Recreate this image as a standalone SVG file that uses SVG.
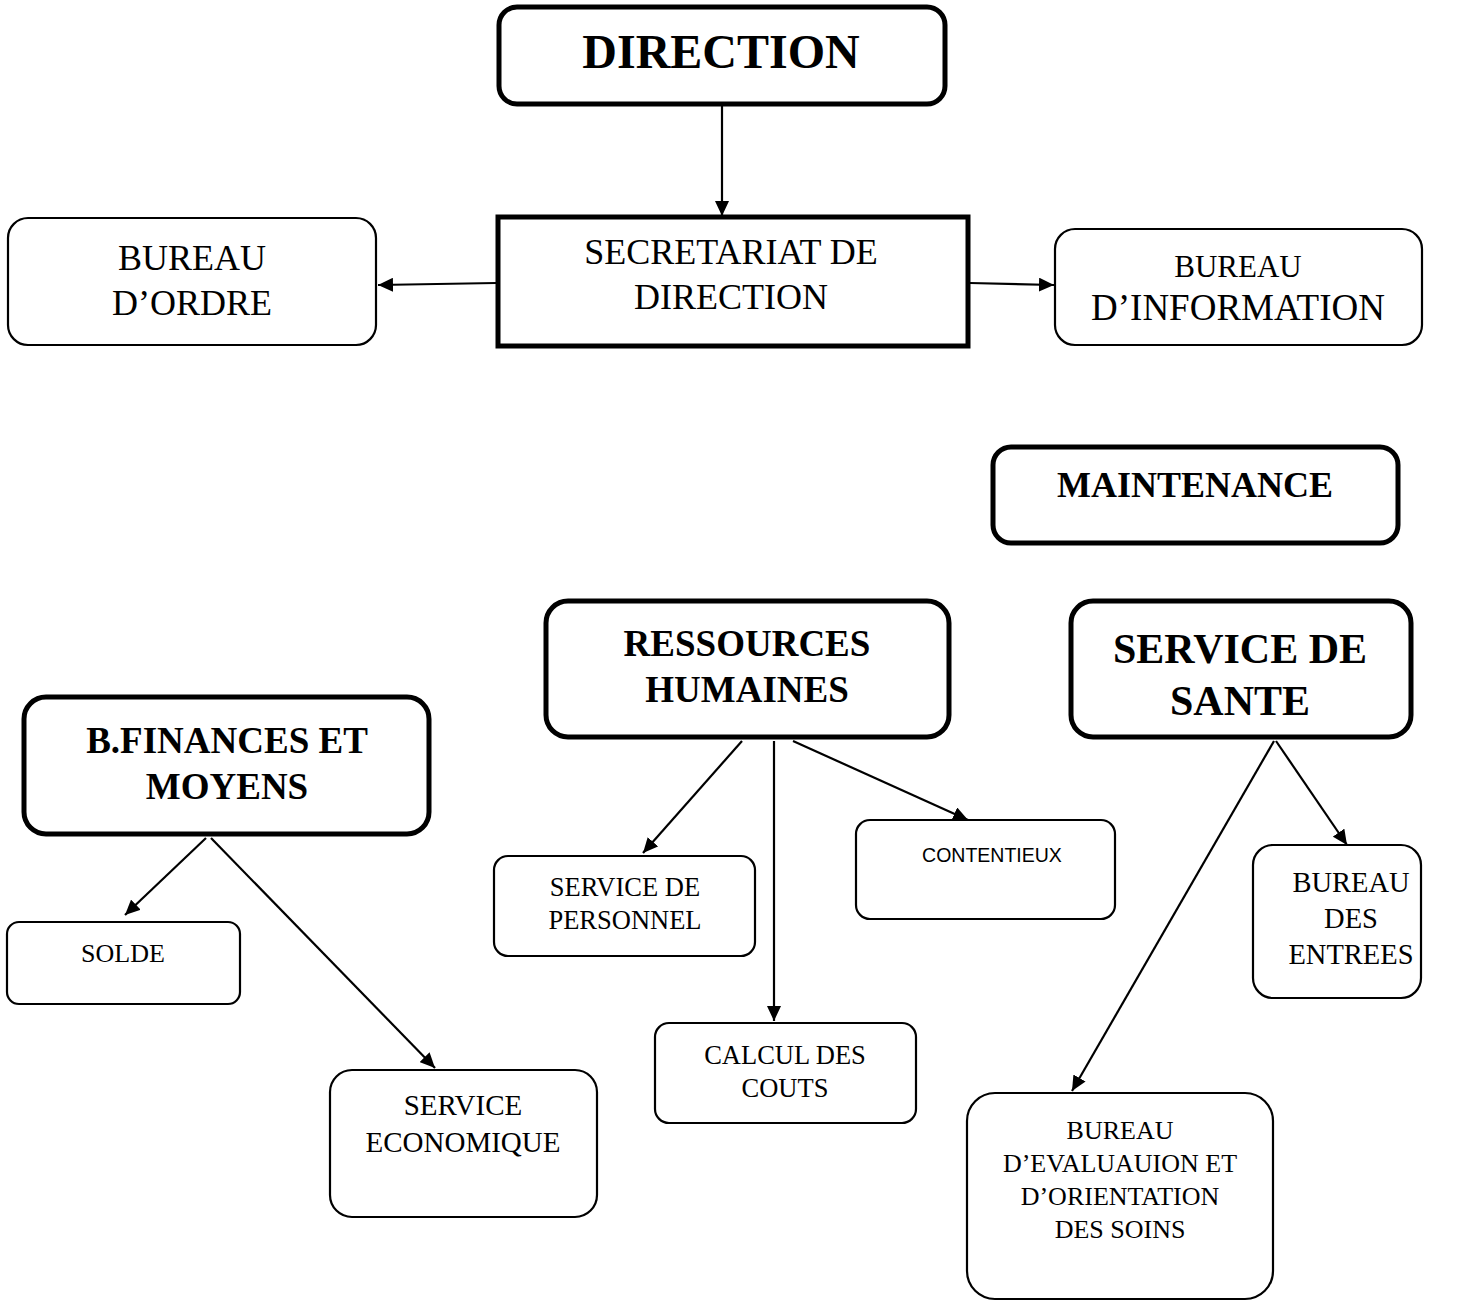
<svg xmlns="http://www.w3.org/2000/svg" width="1461" height="1301" viewBox="0 0 1461 1301">
<style>
.box{fill:#fff;stroke:#000;stroke-width:2.2}
.thick{fill:#fff;stroke:#000;stroke-width:5}
text{font-family:"Liberation Serif","Times New Roman",serif;fill:#000;text-anchor:middle}
.b{font-weight:bold}
.sans{font-family:"Liberation Sans",Arial,sans-serif}
.c line{stroke:#000;stroke-width:2.2;marker-end:url(#ah)}
</style>
<defs>
<marker id="ah" markerUnits="userSpaceOnUse" markerWidth="16" markerHeight="14" refX="15" refY="7" orient="auto">
<path d="M0,0 L15,7 L0,14 Z" fill="#000"/>
</marker>
</defs>
<rect width="1461" height="1301" fill="#fff"/>
<g class="c" id="connectors">
<line x1="722" y1="106" x2="722" y2="216"/>
<line x1="496" y1="283" x2="378" y2="285"/>
<line x1="970" y1="283" x2="1054" y2="285"/>
<line x1="206" y1="838" x2="125" y2="915"/>
<line x1="211" y1="838" x2="435" y2="1068"/>
<line x1="742" y1="741" x2="643" y2="853"/>
<line x1="774" y1="741" x2="774" y2="1021"/>
<line x1="793" y1="741" x2="968" y2="820"/>
<line x1="1274" y1="741" x2="1072" y2="1091"/>
<line x1="1276" y1="741" x2="1347" y2="845"/>
</g>
<g id="direction"><rect class="thick" x="499" y="7" width="446" height="97" rx="18"/><text class="b" x="721" y="68" font-size="48">DIRECTION</text></g>
<g id="secretariat"><rect class="thick" x="498" y="217" width="470" height="129"/><text x="731" y="264" font-size="36">SECRETARIAT DE</text><text x="731" y="309" font-size="36">DIRECTION</text></g>
<g id="bureau-ordre"><rect class="box" x="8" y="218" width="368" height="127" rx="20"/><text x="192" y="270" font-size="36">BUREAU</text><text x="192" y="315" font-size="36">D’ORDRE</text></g>
<g id="bureau-information"><rect class="box" x="1055" y="229" width="367" height="116" rx="20"/><text x="1238" y="277" font-size="31">BUREAU</text><text x="1238" y="320" font-size="37">D’INFORMATION</text></g>
<g id="maintenance"><rect class="thick" x="993" y="447" width="405" height="96" rx="18"/><text class="b" x="1195" y="497" font-size="36">MAINTENANCE</text></g>
<g id="rh"><rect class="thick" x="546" y="601" width="403" height="136" rx="22"/><text class="b" x="747" y="656" font-size="37">RESSOURCES</text><text class="b" x="747" y="702" font-size="37">HUMAINES</text></g>
<g id="sante"><rect class="thick" x="1071" y="601" width="340" height="136" rx="22"/><text class="b" x="1240" y="663" font-size="42">SERVICE DE</text><text class="b" x="1240" y="715" font-size="42">SANTE</text></g>
<g id="finances"><rect class="thick" x="24" y="697" width="405" height="137" rx="22"/><text class="b" x="227" y="753" font-size="37">B.FINANCES ET</text><text class="b" x="227" y="799" font-size="37">MOYENS</text></g>
<g id="solde"><rect class="box" x="7" y="922" width="233" height="82" rx="12"/><text x="123" y="962" font-size="26">SOLDE</text></g>
<g id="economique"><rect class="box" x="330" y="1070" width="267" height="147" rx="22"/><text x="463" y="1115" font-size="29">SERVICE</text><text x="463" y="1152" font-size="29">ECONOMIQUE</text></g>
<g id="personnel"><rect class="box" x="494" y="856" width="261" height="100" rx="14"/><text x="625" y="896" font-size="26.5">SERVICE DE</text><text x="625" y="929" font-size="26.5">PERSONNEL</text></g>
<g id="contentieux"><rect class="box" x="856" y="820" width="259" height="99" rx="14"/><text class="sans" x="992" y="862" font-size="19.5">CONTENTIEUX</text></g>
<g id="calcul"><rect class="box" x="655" y="1023" width="261" height="100" rx="14"/><text x="785" y="1064" font-size="26.5">CALCUL DES</text><text x="785" y="1097" font-size="26.5">COUTS</text></g>
<g id="entrees"><rect class="box" x="1253" y="845" width="168" height="153" rx="20"/><text x="1351" y="892" font-size="28.5">BUREAU</text><text x="1351" y="928" font-size="28.5">DES</text><text x="1351" y="964" font-size="28.5">ENTREES</text></g>
<g id="evaluation"><rect class="box" x="967" y="1093" width="306" height="206" rx="28"/><text x="1120" y="1139" font-size="26">BUREAU</text><text x="1120" y="1172" font-size="26">D’EVALUAUION ET</text><text x="1120" y="1205" font-size="26">D’ORIENTATION</text><text x="1120" y="1238" font-size="26">DES SOINS</text></g>
</svg>
